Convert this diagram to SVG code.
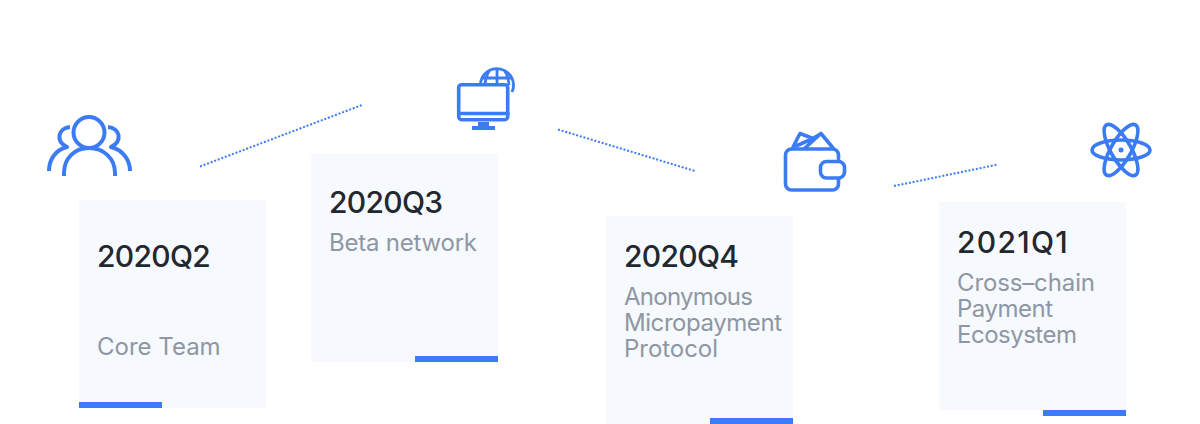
<svg xmlns="http://www.w3.org/2000/svg" width="1200" height="424" viewBox="0 0 1200 424">
<style>
.card{fill:#f6f9fe}
.bar{fill:#3b7cf5}
.t{font-family:Inter,"Liberation Sans",sans-serif;font-size:30px;font-weight:500;letter-spacing:-.7px;fill:#23272e}
.s{font-family:Inter,"Liberation Sans",sans-serif;font-size:24px;fill:#8e97a3}
.i{fill:none;stroke:#3b7cf5;stroke-width:4;stroke-linejoin:round}
.m{fill:none;stroke:#3b7cf5;stroke-width:3.6;stroke-linejoin:round;stroke-linecap:round}
.g{fill:none;stroke:#3b7cf5;stroke-width:2.8}
.c{fill:none;stroke:#3b7cf5;stroke-width:2;stroke-dasharray:2 1.8}
</style>
<rect width="1200" height="424" fill="#fff"/>
<g id="connectors">
<line class="c" x1="200" y1="166.500" x2="362" y2="105"/>
<line class="c" x1="558" y1="129.500" x2="695" y2="171"/>
<line class="c" x1="894" y1="186" x2="998" y2="164.500"/>
</g>
<g id="node-2020q2">
<rect class="card" x="79" y="200" width="187" height="208"/>
<rect class="bar" x="79" y="402" width="83" height="6"/>
<text class="t" x="97" y="267">2020Q2</text>
<text class="s" x="97" y="355">Core Team</text>
<g class="i">
<circle cx="89" cy="132.500" r="15.500"/>
<path d="M64 176V173C64 158 75 148 89 148C103 148 115 158 115 173V176"/>
<path d="M70 127C58 128 55 141 67 147C55 150 49 160 49 171"/>
<path d="M108 127C120 128 123 141 111 147C123 150 130 160 130 171"/>
</g>
</g>
<g id="node-2020q3">
<rect class="card" x="311" y="154" width="187" height="208"/>
<rect class="bar" x="415" y="356" width="83" height="6"/>
<text class="t" x="329" y="213">2020Q3</text>
<text class="s" x="329" y="251" textLength="148" lengthAdjust="spacing">Beta network</text>
<g>
<path class="g" d="M480.500 85A16.500 16.500 0 1 1 512 92M497 68.500V84M490 70C487 74 485.500 79 485 84M504 70C507 74 508.500 79 509 85M483 78H511"/>
<rect class="m" x="458.700" y="84.700" width="49" height="35" rx="3" fill="#f6f9fe"/>
<path class="m" d="M459 113.500H508"/>
</g>
<path class="bar" d="M478 122H489V126H495V130H472V126H478Z"/>
</g>
<g id="node-2020q4">
<rect class="card" x="606" y="216" width="187" height="208"/>
<rect class="bar" x="710" y="418" width="83" height="6"/>
<text class="t" x="624" y="267">2020Q4</text>
<text class="s" x="624" y="305" textLength="129" lengthAdjust="spacing">Anonymous</text>
<text class="s" x="624" y="331" textLength="158" lengthAdjust="spacing">Micropayment</text>
<text class="s" x="624" y="357" textLength="94" lengthAdjust="spacing">Protocol</text>
<g class="m">
<path d="M838.500 159V155A6 6 0 0 0 832.500 149H791.500A6 6 0 0 0 785.500 155V184A6 6 0 0 0 791.500 190H832.500A6 6 0 0 0 838.500 184V179"/>
<rect x="820.500" y="161.500" width="24" height="16.500" rx="6"/>
<path d="M793 147L800 133.500L813 138.500L821 133.500L833 148M805 148L821 133.500M796 146L813 138.500"/>
</g>
</g>
<g id="node-2021q1">
<rect class="card" x="939" y="202" width="187" height="208"/>
<rect class="bar" x="1043" y="410" width="83" height="6"/>
<text class="t" x="957" y="253" textLength="110" lengthAdjust="spacing">2021Q1</text>
<text class="s" x="957" y="291" textLength="138" lengthAdjust="spacing">Cross–chain</text>
<text class="s" x="957" y="317" textLength="96" lengthAdjust="spacing">Payment</text>
<text class="s" x="957" y="343" textLength="120" lengthAdjust="spacing">Ecosystem</text>
<g class="m">
<ellipse cx="1121" cy="150" rx="29" ry="10"/>
<ellipse cx="1121" cy="150" rx="29" ry="10" transform="rotate(60 1121 150)"/>
<ellipse cx="1121" cy="150" rx="29" ry="10" transform="rotate(-60 1121 150)"/>
</g>
<circle class="bar" cx="1121" cy="150" r="2.500"/>
</g>
</svg>
